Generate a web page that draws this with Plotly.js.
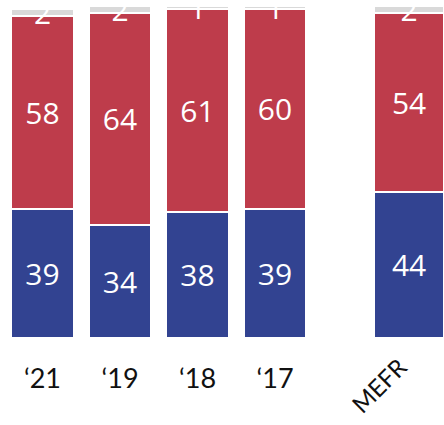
<!DOCTYPE html>
<html>
<head>
<meta charset="utf-8">
<script src="https://cdn.plot.ly/plotly-3.0.1.min.js"></script>
<style>html,body{margin:0;padding:0;background:#fff;}#chart{width:444px;height:425px;}</style>
</head>
<body>
<div id="chart"></div>
<script>
var categories = ["\u201821", "\u201819", "\u201818", "\u201817", "MEFR"];
var blueVals = [39, 34, 38, 39, 44];
var redVals = [58, 64, 61, 60, 54];
var greyVals = [2, 2, 1, 1, 2];

var xPos = [0, 1, 2, 3, 4.73];
var widths = [0.81, 0.81, 0.81, 0.81, 0.9];

function mk(vals, color) {
  return {
    type: 'bar', x: xPos, y: vals, width: widths,
    marker: {color: color, line: {color: '#ffffff', width: 2}},
    text: vals.map(String), textposition: 'inside', insidetextanchor: 'middle',
    constraintext: 'none', textangle: 0,
    textfont: {color: '#ffffff', size: 30, family: 'Open Sans, sans-serif'},
    hoverinfo: 'none', cliponaxis: false
  };
}
var data = [mk(blueVals, '#324391'), mk(redVals, '#BE3C4B'), mk(greyVals, '#D9D9D9')];

var layout = {
  width: 444, height: 425,
  margin: {l: 0, r: 0, t: 6, b: 87, pad: 0},
  barmode: 'stack',
  showlegend: false,
  paper_bgcolor: '#fff', plot_bgcolor: '#fff',
  uniformtext: {mode: false},
  xaxis: {
    range: [-0.548, 5.18], showgrid: false, zeroline: false, showline: false,
    tickmode: 'array', tickvals: xPos.slice(0, 4), ticktext: categories.slice(0, 4),
    ticks: 'outside', ticklen: 17, tickcolor: 'rgba(0,0,0,0)',
    tickfont: {size: 27, color: '#111', family: 'Lato, sans-serif'}
  },
  yaxis: {range: [0, 100], visible: false, fixedrange: true},
  annotations: [{
    x: xPos[4], y: 0, xref: 'x', yref: 'y', text: categories[4],
    showarrow: false, textangle: -45, xanchor: 'center', yanchor: 'middle',
    xshift: -31, yshift: -47,
    font: {size: 24, color: '#111', family: 'Lato, sans-serif'}
  }]
};
Plotly.newPlot('chart', data, layout, {displayModeBar: false, staticPlot: true});
</script>
</body>
</html>
